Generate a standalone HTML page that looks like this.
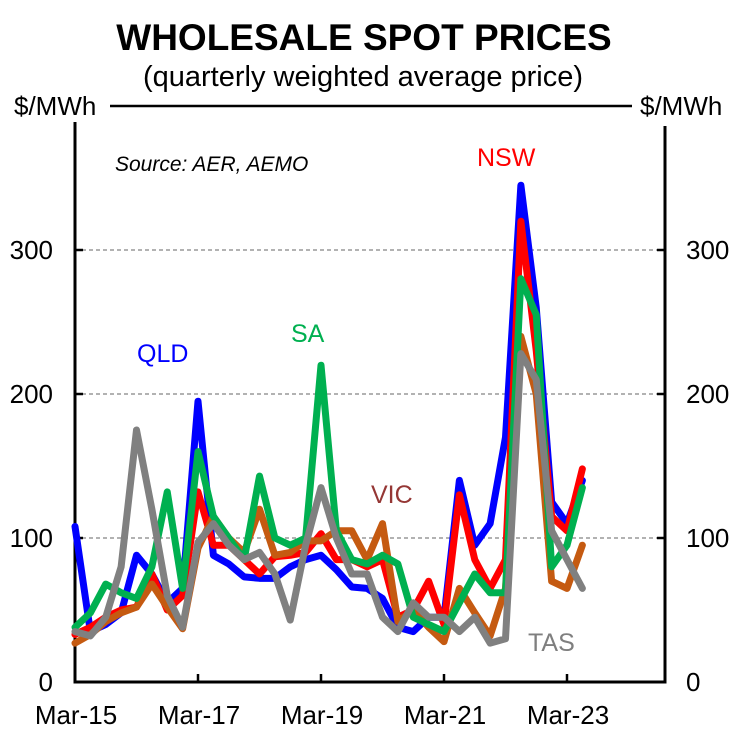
<!DOCTYPE html>
<html><head><meta charset="utf-8"><style>
body{margin:0;background:#fff;}
svg{display:block;font-family:"Liberation Sans",Arial,sans-serif;}
</style></head><body>
<svg id="chart" width="746" height="746" viewBox="0 0 746 746">
<text x="364" y="50" text-anchor="middle" font-size="37" font-weight="bold">WHOLESALE SPOT PRICES</text>
<text x="363" y="86" text-anchor="middle" font-size="29">(quarterly weighted average price)</text>
<text x="14" y="115" font-size="26">$/MWh</text>
<text x="640" y="115" font-size="26">$/MWh</text>
<line x1="110" y1="106" x2="632" y2="106" stroke="#000" stroke-width="2.5"/>
<g id="grid"></g>
<g id="axes"></g>
<g id="series"></g>
<text x="115" y="171" font-size="21" font-style="italic">Source: AER, AEMO</text>
<text x="137" y="362" font-size="25" fill="#0000ff">QLD</text>
<text x="291" y="342" font-size="25" fill="#00b050">SA</text>
<text x="477" y="166" font-size="25" fill="#ff0000">NSW</text>
<text x="371" y="503" font-size="25" fill="#953735">VIC</text>
<text x="528" y="651" font-size="25" fill="#7f7f7f">TAS</text>
</svg>
<script>
const qld=[108,35,40,48,88,75,55,65,195,88,82,73,72,72,80,85,88,78,66,65,58,38,35,45,45,140,95,110,170,345,260,125,110,140];
const nsw=[33,38,45,50,52,75,50,60,132,95,95,85,75,87,88,90,103,85,85,80,85,45,50,70,40,130,85,65,85,320,230,115,105,148];
const sa=[38,48,68,62,58,80,132,65,160,115,100,85,143,100,95,100,220,105,85,82,88,82,45,40,35,55,75,62,62,280,255,80,95,135];
const vic=[27,33,42,48,52,68,52,37,93,115,100,90,120,88,90,98,98,105,105,85,110,42,50,38,28,65,48,32,65,240,200,70,65,95];
const tas=[35,32,45,80,175,120,60,38,97,110,95,85,90,75,43,95,135,100,75,75,45,35,55,45,45,35,45,27,30,228,210,105,85,65];
const yTicks=[0,100,200,300];
const xLabels=["Mar-15","Mar-17","Mar-19","Mar-21","Mar-23"];
const NS="http://www.w3.org/2000/svg";
const X0=75,X1=665,Y0=682,YT=106,QW=15.375;
function xs(i){return X0+i*QW;}
function ys(v){return Y0-v*1.44;}
function mk(tag,attrs,parent){const e=document.createElementNS(NS,tag);for(const k in attrs)e.setAttribute(k,attrs[k]);parent.appendChild(e);return e;}
const grid=document.getElementById('grid'),axes=document.getElementById('axes'),ser=document.getElementById('series');
yTicks.forEach(v=>{
  const y=ys(v);
  if(v>0){const g=mk('line',{x1:X0,x2:X1,y1:y,y2:y,stroke:'#666','stroke-width':1,'stroke-dasharray':'4,3'},grid);
  
  }
  const t1=mk('line',{x1:X0,x2:X0+8,y1:y,y2:y,stroke:'#000','stroke-width':2.5},axes);
  
  
  const t2=mk('line',{x1:X1-8,x2:X1,y1:y,y2:y,stroke:'#000','stroke-width':2.5},axes);
  
  
  const l=mk('text',{x:53,y:y+9,'text-anchor':'end','font-size':26},axes);l.textContent=v;
  
  
  const r=mk('text',{x:686,y:y+9,'font-size':26},axes);r.textContent=v;
  
  
});
const ax=mk('path',{d:`M${X0},122 V${Y0} H${X1} V126`,fill:'none',stroke:'#000','stroke-width':3},axes);


xLabels.forEach((s,k)=>{
  const x=xs(k*8);
  if(k>0){const t=mk('line',{x1:x,x2:x,y1:Y0,y2:Y0-8,stroke:'#000','stroke-width':2.5},axes);
  
  }
  const l=mk('text',{x:x+1,y:724,'text-anchor':'middle','font-size':26},axes);l.textContent=s;
  
  
});
[[qld,'#0000ff','qld'],[nsw,'#ff0000','nsw'],[vic,'#c55a11','vic'],[sa,'#00b050','sa'],[tas,'#808080','tas']].forEach(([d,c,n])=>{
  const p=mk('polyline',{points:d.map((v,i)=>xs(i)+','+ys(v)).join(' '),fill:'none',stroke:c,'stroke-width':7,'stroke-linejoin':'round','stroke-linecap':'round'},ser);
  
  
});
</script>
</body></html>
